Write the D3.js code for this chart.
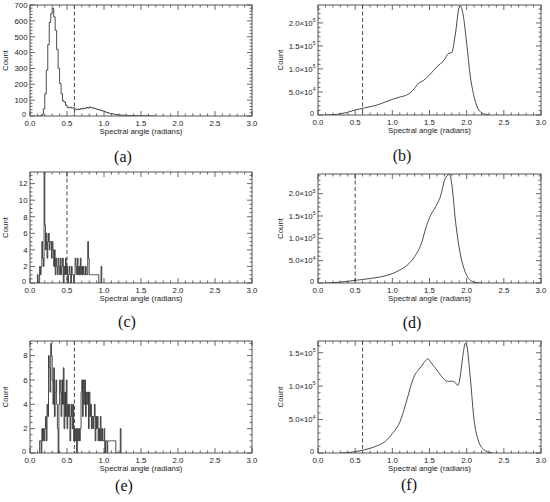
<!DOCTYPE html>
<html><head><meta charset="utf-8">
<script src="https://cdn.jsdelivr.net/npm/d3@7"></script>
<style>body{margin:0;background:#fff}svg{display:block}</style>
</head><body>
<svg id="c" width="550" height="502"></svg>
<script>
// ---- DATA ----
const xTicks = [0.0, 0.5, 1.0, 1.5, 2.0, 2.5, 3.0];
const panelLabels = ["(a)", "(b)", "(c)", "(d)", "(e)", "(f)"];
const thresholds = [0.6, 0.6, 0.5, 0.5, 0.6, 0.6];

// (a) histogram, bins of 0.02 starting at 0.10
const aStart = 0.10, aWidth = 0.02;
const aCounts = [0,0,2,10,45,140,290,450,590,645,680,625,540,420,300,205,140,95,88,68,
  55,52,55,50,52,45,40,44,41,47,44,50,47,54,50,57,51,53,47,46,
  42,40,37,35,31,29,24,22,18,16,14,12,10,9,8,7,6,5,5,4,
  4,3,3,2,2,2,2,1,1,1,1,1,0,1,0,0,0,0,0,0];

// (c) histogram, bins of 0.01 starting at 0.09
const cStart = 0.09, cWidth = 0.01;
const cCounts = [0,1,0,0,2,1,2,5,3,2,14,7,4,6,3,5,6,4,5,5,3,5,4,2,4,1,3,2,1,3,2,
  1,3,1,2,3,0,2,1,3,1,2,0,1,2,1,0,2,1,1,0,1,3,2,1,3,1,2,1,3,1,2,1,2,1,1,2,1,1,5,3,
  1,1,1,1,1,1,1,1,1,1,1,1,1,0,0,0,2,0];

// (e) histogram, bins of 0.01 starting at 0.12
const eStart = 0.12, eWidth = 0.01;
const eCounts = [0,1,1,0,2,1,2,1,2,3,1,4,3,8,7,5,9,8,6,4,7,3,5,6,4,2,0,4,6,5,3,6,4,7,2,5,3,6,
  2,4,3,4,1,3,4,2,4,1,2,1,2,0,2,1,2,1,2,5,6,3,6,4,6,3,5,4,5,2,5,3,4,2,3,2,3,4,1,3,
  2,3,1,2,1,3,1,2,1,1,2,0,1,1,0,1,1,1,1,1,1,1,1,1,1,1,0,0,0,0,0,0,2,0];

// (b) smooth distribution
const bAngle = [0.10,0.20,0.30,0.40,0.50,0.60,0.70,0.80,0.90,1.00,1.10,1.20,1.25,1.30,1.35,1.40,1.50,1.60,1.70,1.75,1.80,1.85,1.90,1.92,1.95,2.00,2.05,2.10,2.15,2.20,2.25,2.30];
const bCount = [0,500,2500,6000,11000,14500,18000,22000,28000,34000,39000,44000,50000,58000,69000,73000,87000,105000,120000,133000,136000,178000,234000,236000,220000,156000,83000,40000,14500,5000,1500,0];

// (d) smooth distribution
const dAngle = [0.10,0.20,0.50,0.70,1.00,1.10,1.20,1.30,1.40,1.45,1.50,1.60,1.65,1.70,1.75,1.77,1.80,1.85,1.90,1.95,2.00,2.05,2.10,2.15,2.20];
const dCount = [0,500,6000,10000,21000,29000,40000,59000,93000,123000,146000,176000,195000,229000,242000,243000,221000,138000,78000,40000,17000,6000,2000,500,0];

// (f) smooth distribution
const fAngle = [0.30,0.40,0.50,0.60,0.70,0.80,0.90,1.00,1.10,1.20,1.25,1.30,1.35,1.40,1.45,1.48,1.50,1.55,1.60,1.65,1.70,1.75,1.80,1.85,1.88,1.90,1.95,1.98,2.00,2.05,2.10,2.15,2.20,2.25,2.30,2.35];
const fCount = [0,500,2000,4000,7000,11000,17000,29000,46000,81000,101000,116000,124000,131000,138500,141000,138500,131000,124000,116000,110000,107000,107500,105000,101000,106000,146000,164000,161000,111000,49000,21000,8500,3500,1000,0];

// ---- DRAWING ----
const svg = d3.select("#c");
const FONT = "'Liberation Sans', Arial, Helvetica, sans-serif";
const FS = 7.8;

function binsToPoints(start, width, counts) {
  return counts.map((c, i) => [start + (i + 0.5) * width, c]);
}

const panels = [
  {x0:30, x1:252, y0:5, y1:116, ymax:700, major:100, minorN:5, sci:false,
   pts: binsToPoints(aStart, aWidth, aCounts), step:true, lx:123, ly:162},
  {x0:318, x1:541, y0:5, y1:115, ymax:239000, major:50000, minorN:5, sci:true,
   pts: bAngle.map((a,i)=>[a,bCount[i]]), step:false, lx:402, ly:161},
  {x0:30, x1:252, y0:172, y1:283, ymax:13.4, major:2, minorN:4, sci:false,
   pts: binsToPoints(cStart, cWidth, cCounts), step:true, lx:127, ly:327},
  {x0:318, x1:541, y0:174, y1:283, ymax:244000, major:50000, minorN:5, sci:true,
   pts: dAngle.map((a,i)=>[a,dCount[i]]), step:false, lx:412, ly:328},
  {x0:30, x1:252, y0:341, y1:453, ymax:9.2, major:2, minorN:4, sci:false,
   pts: binsToPoints(eStart, eWidth, eCounts), step:true, lx:124, ly:491},
  {x0:318, x1:541, y0:341, y1:453, ymax:167500, major:50000, minorN:5, sci:true,
   pts: fAngle.map((a,i)=>[a,fCount[i]]), step:false, lx:409, ly:490}
];

const col = "#222";

panels.forEach((p, idx) => {
  const x = d3.scaleLinear().domain([0, 3]).range([p.x0, p.x1]);
  const y = d3.scaleLinear().domain([0, p.ymax]).range([p.y1, p.y0]);
  const g = svg.append("g");
  const clipId = "clip" + idx;
  g.append("clipPath").attr("id", clipId).append("rect")
    .attr("x", p.x0).attr("y", p.y0).attr("width", p.x1 - p.x0).attr("height", p.y1 - p.y0);

  // data line
  const line = d3.line().x(d => x(d[0])).y(d => y(d[1]))
    .curve(p.step ? d3.curveStep : d3.curveMonotoneX);
  g.append("path").datum(p.pts).attr("d", line)
    .attr("fill", "none").attr("stroke", "#111").attr("stroke-width", 0.75)
    .attr("clip-path", `url(#${clipId})`);

  // dashed threshold
  g.append("line").attr("x1", x(thresholds[idx])).attr("x2", x(thresholds[idx]))
    .attr("y1", p.y0).attr("y2", p.y1)
    .attr("stroke", "#333").attr("stroke-width", 0.9).attr("stroke-dasharray", "4,2.5");

  // frame
  g.append("rect").attr("x", p.x0).attr("y", p.y0)
    .attr("width", p.x1 - p.x0).attr("height", p.y1 - p.y0)
    .attr("fill", "none").attr("stroke", "#444").attr("stroke-width", 0.9);

  const majL = 5, minL = 2.5;
  // x ticks (bottom and top, inward)
  const xMinor = d3.range(0, 31).map(i => i / 10);
  xMinor.forEach(v => {
    const isMajor = Math.abs(v * 2 - Math.round(v * 2)) < 1e-6;
    const L = isMajor ? majL : minL;
    g.append("line").attr("x1", x(v)).attr("x2", x(v)).attr("y1", p.y1).attr("y2", p.y1 - L)
      .attr("stroke", "#444").attr("stroke-width", 0.8);
    g.append("line").attr("x1", x(v)).attr("x2", x(v)).attr("y1", p.y0).attr("y2", p.y0 + L)
      .attr("stroke", "#444").attr("stroke-width", 0.8);
  });
  xTicks.forEach(v => {
    g.append("text").attr("x", x(v)).attr("y", p.y1 + 9.5)
      .attr("text-anchor", "middle").attr("font-family", FONT).attr("font-size", FS)
      .attr("fill", col).text(v.toFixed(1));
  });

  // y ticks (left and right, inward)
  const minorStep = p.major / p.minorN;
  const nMinor = Math.floor(p.ymax / minorStep + 1e-9);
  for (let i = 0; i <= nMinor; i++) {
    const v = i * minorStep;
    const L = (i % p.minorN === 0) ? majL : minL;
    g.append("line").attr("x1", p.x0).attr("x2", p.x0 + L).attr("y1", y(v)).attr("y2", y(v))
      .attr("stroke", "#444").attr("stroke-width", 0.8);
    g.append("line").attr("x1", p.x1).attr("x2", p.x1 - L).attr("y1", y(v)).attr("y2", y(v))
      .attr("stroke", "#444").attr("stroke-width", 0.8);
  }
  const yMajors = d3.range(0, p.ymax + 1e-9, p.major);
  yMajors.forEach(v => {
    const isZero = v === 0;
    const t = g.append("text")
      .attr("x", isZero ? p.x0 - 4 : p.x0 - 2.5)
      .attr("y", isZero ? y(v) + 0.5 : y(v) + 2.8)
      .attr("text-anchor", "end").attr("font-family", FONT).attr("font-size", isZero ? 7.2 : FS)
      .attr("fill", col);
    if (isZero) { t.text("0"); return; }
    if (p.sci) {
      const e = Math.floor(Math.log10(v) + 1e-9);
      const m = v / Math.pow(10, e);
      t.append("tspan").text(m.toFixed(1) + "\u00d710");
      t.append("tspan").attr("font-size", 5).attr("dy", -3.6).text(e);
    } else {
      t.text(String(v));
    }
  });

  // axis titles
  g.append("text").attr("x", (p.x0 + p.x1) / 2).attr("y", p.y1 + 18)
    .attr("text-anchor", "middle").attr("font-family", FONT).attr("font-size", FS)
    .attr("fill", col).text("Spectral angle (radians)");
  const cx = p.sci ? p.x0 - 35 : p.x0 - 22;
  g.append("text").attr("transform", `translate(${cx},${(p.y0 + p.y1) / 2}) rotate(-90)`)
    .attr("text-anchor", "middle").attr("font-family", FONT).attr("font-size", FS)
    .attr("fill", col).text("Count");

  // panel label
  g.append("text").attr("x", p.lx).attr("y", p.ly).attr("text-anchor", "middle")
    .attr("font-family", "'Liberation Serif', 'Times New Roman', serif").attr("font-size", 16)
    .attr("fill", "#111").text(panelLabels[idx]);
});
</script>
</body></html>
